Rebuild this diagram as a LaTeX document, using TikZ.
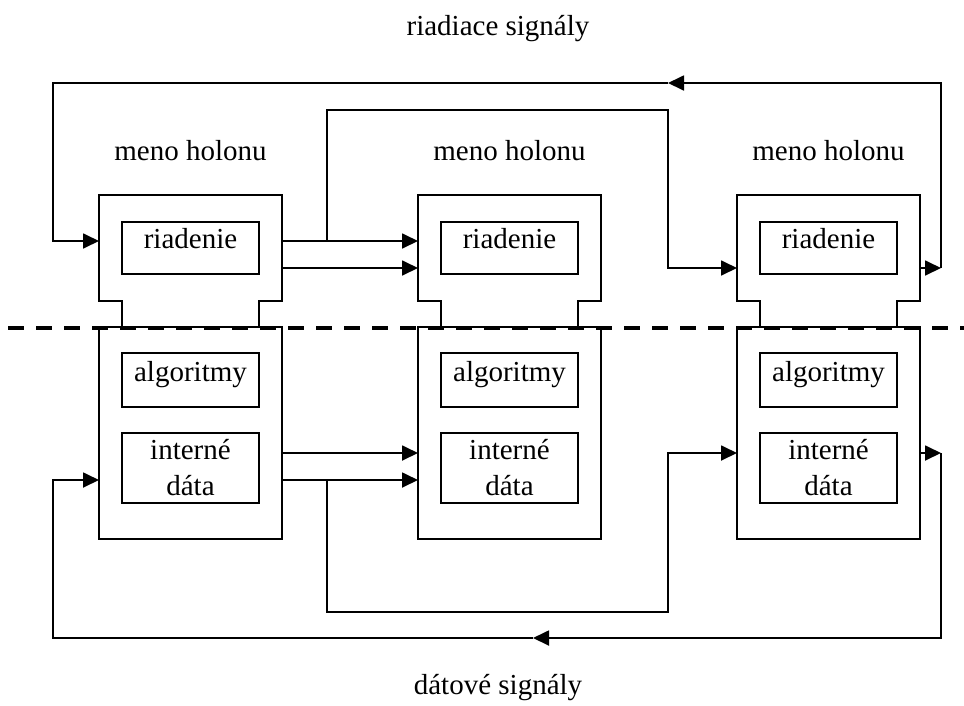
\documentclass[tikz,border=0pt]{standalone}
\usepackage{fontspec}
\setmainfont{Liberation Serif}
\usetikzlibrary{arrows.meta}
\begin{document}
\begin{tikzpicture}[x=1pt,y=-1pt,
  line width=1.8pt, line join=miter,
  every node/.style={inner sep=0pt, outer sep=0pt},
  txt/.style={font=\fontsize{29}{35}\selectfont, anchor=base},
  frame/.style={draw=none, minimum width=183pt, minimum height=106pt},
  body/.style={draw, minimum width=183pt, minimum height=212pt},
  inbox/.style={draw, minimum width=137pt},
  arr/.style={-{Triangle[length=16pt,width=15pt]}},
  sep/.style={line width=4.5pt, dash pattern=on 16pt off 12pt, dash phase=20pt}
]
\useasboundingbox (0,0) rectangle (964,705);

% three holons: upper (control) part and lower (body) part
\foreach \i/\x in {1/190.5, 2/509.5, 3/828.5}{
  \node[frame] (up\i) at (\x,248) {};
  \node[body] (low\i) at (\x,433) {};
  \draw ([xshift=23pt]low\i.north west) |- (up\i.south west)
        |- (up\i.north east) |- ([xshift=-23pt]up\i.south east)
        -- ([xshift=-23pt]low\i.north east);
  \node[inbox, minimum height=52pt] (r\i) at (\x,248) {};
  \node[inbox, minimum height=54pt] (a\i) at (\x,380) {};
  \node[inbox, minimum height=70pt] (d\i) at (\x,468) {};
  \node[txt] at ([yshift=35pt]up\i.north) {meno holonu};
  \node[txt] at ([yshift=-26pt]r\i.north) {riadenie};
  \node[txt] at ([yshift=-28pt]a\i.north) {algoritmy};
  \node[txt] at ([yshift=-26pt]d\i.north) {interné};
  \node[txt] at ([yshift=-62pt]d\i.north) {dáta};
}

% separating line between control and data levels
\draw[sep] (0,328) -- (964,328);

% captions
\node[txt] (ctl) at (498,35) {riadiace signály};
\node[txt] (dat) at (498,694) {dátové signály};

% routing points
\coordinate (cb) at (327,241);
\coordinate (ctop) at (668,110);
\coordinate (fbR) at (941,268);
\coordinate (topArrow) at (668,83);
\coordinate (fbL) at (53,241);
\coordinate (cb2) at (327,480);
\coordinate (cbot) at (668,612);
\coordinate (fbR2) at (941,453);
\coordinate (botArrow) at (533,638);
\coordinate (fbL2) at (53,480);

% control signals
\draw[arr] ([yshift=7pt]up1.east) -- ([yshift=7pt]up2.west);
\draw[arr] ([yshift=-20pt]up1.east) -- ([yshift=-20pt]up2.west);
\draw[arr] (cb) |- (ctop) |- ([yshift=-20pt]up3.west);
\draw[arr] ([yshift=-20pt]up3.east) -- (fbR);
\draw[arr] (fbR) |- (topArrow);
\draw[arr] (topArrow) -| (fbL) -- ([yshift=7pt]up1.west);

% data signals
\draw[arr] ([yshift=-20pt]low1.east) -- ([yshift=-20pt]low2.west);
\draw[arr] ([yshift=-47pt]low1.east) -- ([yshift=-47pt]low2.west);
\draw[arr] (cb2) |- (cbot) |- ([yshift=-20pt]low3.west);
\draw[arr] ([yshift=-20pt]low3.east) -- (fbR2);
\draw[arr] (fbR2) |- (botArrow);
\draw[arr] (botArrow) -| (fbL2) -- ([yshift=-47pt]low1.west);
\end{tikzpicture}
\end{document}
